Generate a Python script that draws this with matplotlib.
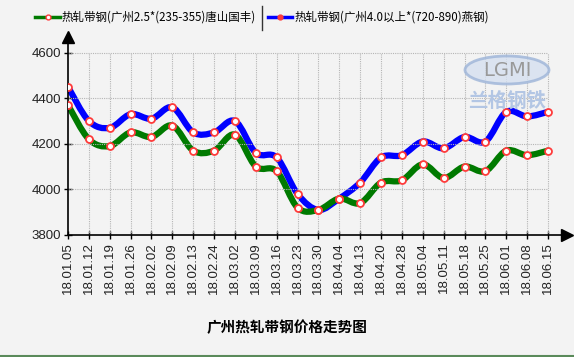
import numpy as np
import matplotlib
matplotlib.use("Agg")
import matplotlib.pyplot as plt
from matplotlib.path import Path
from matplotlib.patches import PathPatch, Ellipse
from matplotlib.lines import Line2D

plt.rcParams['font.family'] = ['Liberation Sans', 'Noto Sans CJK SC', 'DejaVu Sans']

dates = ['18.01.05', '18.01.12', '18.01.19', '18.01.26', '18.02.02', '18.02.09',
         '18.02.13', '18.02.24', '18.03.02', '18.03.09', '18.03.16', '18.03.23',
         '18.03.30', '18.04.04', '18.04.13', '18.04.20', '18.04.28', '18.05.04',
         '18.05.11', '18.05.18', '18.05.25', '18.06.01', '18.06.08', '18.06.15']
tangshan = [4370, 4220, 4190, 4250, 4230, 4280, 4170, 4170, 4240, 4100, 4080, 3920,
            3910, 3960, 3940, 4030, 4040, 4110, 4050, 4100, 4080, 4170, 4150, 4170]
yangang = [4450, 4300, 4270, 4330, 4310, 4360, 4250, 4250, 4300, 4160, 4140, 3980,
           3910, 3960, 4030, 4140, 4150, 4210, 4180, 4230, 4210, 4340, 4320, 4340]
name1 = '热轧带钢(广州2.5*(235-355)唐山国丰)'
name2 = '热轧带钢(广州4.0以上*(720-890)燕钢)'
title = '广州热轧带钢价格走势图'
yticks = [3800, 4000, 4200, 4400, 4600]


def smooth_path(x, y):
    # catmull-rom through the points, written as cubic bezier segments
    pts = np.column_stack([x, y]).astype(float)
    verts = [pts[0]]
    codes = [Path.MOVETO]
    n = len(pts)
    for i in range(n - 1):
        p0 = pts[max(i - 1, 0)]
        p1 = pts[i]
        p2 = pts[i + 1]
        p3 = pts[min(i + 2, n - 1)]
        verts += [p1 + (p2 - p0) / 6, p2 - (p3 - p1) / 6, p2]
        codes += [Path.CURVE4] * 3
    return Path(verts, codes)


bg = '#f3f3f3'
fig = plt.figure(figsize=(5.74, 3.57), dpi=100)
fig.patch.set_facecolor(bg)
ax = fig.add_axes([68 / 574, 1 - 235 / 357, (567 - 68) / 574, (235 - 37) / 357])
ax.set_facecolor(bg)

x = np.arange(len(dates))
ax.set_xlim(0, 23 * (567 - 68) / 480)
ax.set_ylim(3800, 3800 + 200 * (235 - 37) / 45.6)

# dotted grid, only inside the data range
ax.hlines(yticks[1:], 0, x[-1], colors='#b5b5b5', linestyles=(0, (1, 1)), linewidth=0.8)
ax.vlines(x[1:], 3800, 4600, colors='#b5b5b5', linestyles=(0, (1, 1)), linewidth=0.8)

for vals, col in [(yangang, '#0000ff'), (tangshan, '#007a00')]:
    ax.add_patch(PathPatch(smooth_path(x, vals), facecolor='none', edgecolor=col,
                           linewidth=4.5, capstyle='round', joinstyle='round'))
for vals in [yangang, tangshan]:
    ax.plot(x, vals, 'o', ms=5, mfc='white', mec='#ff3b3b', mew=1.3, zorder=5)

for s in ['top', 'right']:
    ax.spines[s].set_visible(False)
for s in ['left', 'bottom']:
    ax.spines[s].set_linewidth(1.2)
ax.plot(1, 0, '>k', ms=8, transform=ax.transAxes, clip_on=False)
ax.plot(0, 1, '^k', ms=8, transform=ax.transAxes, clip_on=False)

ax.set_xticks(x)
ax.set_xticklabels(dates, rotation=90, fontsize=9.5, color='#222222')
ax.set_yticks(yticks)
ax.set_yticklabels([str(v) for v in yticks], fontsize=9.5, color='#222222')
ax.tick_params(direction='inout', length=6, width=1, pad=2)

# watermark
fig.add_artist(Ellipse((507 / 574, 1 - 70 / 357), 84 / 574, 28 / 357,
                       transform=fig.transFigure, facecolor='#d6e0f0',
                       edgecolor='#9db4d8', linewidth=2, alpha=0.8))
fig.text(507 / 574, 1 - 70 / 357, 'LGMI', color='#999999', fontsize=14,
         ha='center', va='center', family=['DejaVu Sans'])
fig.text(507 / 574, 1 - 101 / 357, '兰格钢铁', color='#b3c6e4', fontsize=14,
         ha='center', va='center', family=['Noto Sans CJK SC'], fontweight='bold')

# legend drawn by hand at the top
ly = 1 - 17 / 357
fig.add_artist(Line2D([35 / 574, 60 / 574], [ly, ly], color='#007a00', lw=2.5,
                      transform=fig.transFigure))
fig.add_artist(Line2D([47.5 / 574], [ly], marker='o', ms=3.5, mfc='white', mec='#ff3b3b',
                      transform=fig.transFigure))
fig.text(62 / 574, ly, name1, fontsize=8.3, va='center', family=['Noto Sans CJK SC'])
fig.add_artist(Line2D([262 / 574, 262 / 574], [1 - 6 / 357, 1 - 30 / 357], color='#333333',
                      lw=1, transform=fig.transFigure))
fig.add_artist(Line2D([268 / 574, 292 / 574], [ly, ly], color='#0000ff', lw=2.5,
                      transform=fig.transFigure))
fig.add_artist(Line2D([280 / 574], [ly], marker='o', ms=3.5, mfc='#ff3b3b', mec='#ff3b3b',
                      transform=fig.transFigure))
fig.text(295 / 574, ly, name2, fontsize=8.3, va='center', family=['Noto Sans CJK SC'])

fig.text(287 / 574, 1 - 327 / 357, title, fontsize=10.5, fontweight='bold',
         ha='center', va='center', family=['Noto Sans CJK SC'])

fig.add_artist(Line2D([0, 1], [1 / 357, 1 / 357], color='#5a8a5a', lw=1.5,
                      transform=fig.transFigure))

fig.savefig('out.png', dpi=100, facecolor=bg)
